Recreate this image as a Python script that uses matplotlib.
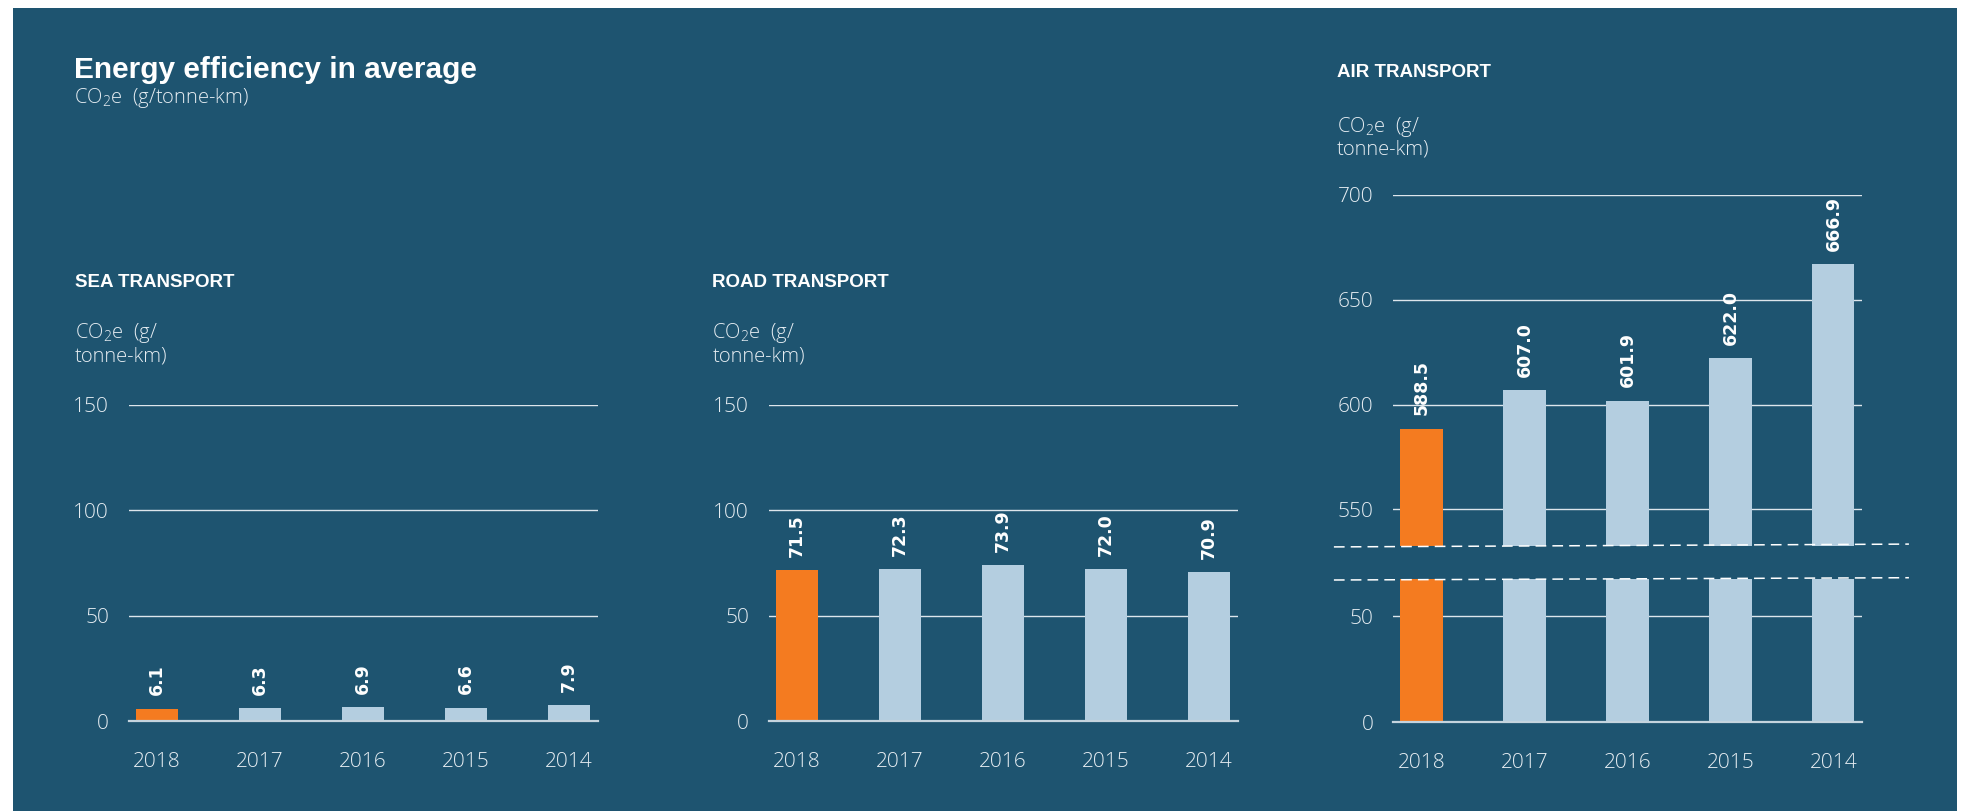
import numpy as np
import matplotlib.pyplot as plt
from matplotlib.patches import Rectangle

plt.rcParams['mathtext.default'] = 'regular'

# data
years = ['2018', '2017', '2016', '2015', '2014']
sea = [6.1, 6.3, 6.9, 6.6, 7.9]
road = [71.5, 72.3, 73.9, 72.0, 70.9]
air = [588.5, 607.0, 601.9, 622.0, 666.9]

bg = '#1e5470'
orange = '#f47b20'
light = '#b4cee0'
grid_c = '#dde6ec'
txt_c = '#e6edf2'
bar_colors = [orange] + [light] * 4

LIGHT = dict(family=['Open Sans', 'DejaVu Sans'], weight='light')
BOLD = dict(family=['Liberation Sans', 'DejaVu Sans'], weight='bold')

fig = plt.figure(figsize=(19.64, 8.11), dpi=100)
fig.patch.set_facecolor('white')
fig.add_artist(Rectangle((0.00647, 0), 0.99, 0.99014, transform=fig.transFigure,
                         facecolor=bg, edgecolor='none', zorder=0))

x = np.arange(len(years))
W = 0.41


def setup(ax, ylim, ticks, bottom=True, xlabels=True):
	ax.set_facecolor('none')
	ax.set_xlim(-0.276, 4.278)
	ax.set_ylim(*ylim)
	ax.set_yticks(ticks)
	ax.set_yticklabels([str(t) for t in ticks], color=txt_c, fontsize=15, **LIGHT)
	for t in ticks:
		if t != 0:
			ax.axhline(t, color=grid_c, lw=1.0, zorder=1)
	for s in ['top', 'right', 'left']:
		ax.spines[s].set_visible(False)
	if bottom:
		ax.spines['bottom'].set_color('#c5d4de')
		ax.spines['bottom'].set_linewidth(1.6)
		ax.spines['bottom'].set_zorder(3)
	else:
		ax.spines['bottom'].set_visible(False)
	ax.tick_params(axis='y', length=0, pad=14)
	ax.tick_params(axis='x', length=0, pad=22)
	ax.set_xticks(x)
	if xlabels:
		ax.set_xticklabels(years, color=txt_c, fontsize=15, **LIGHT)
	else:
		ax.set_xticklabels([])


def value_labels(ax, vals):
	for xi, v in zip(x, vals):
		ax.annotate(f'{v:.1f}', (xi, v), xytext=(0, 9.5), textcoords='offset points',
		            rotation=90, ha='center', va='bottom', color='white',
		            fontsize=12.5, fontweight='bold', family='DejaVu Sans',
		            annotation_clip=False, zorder=5)


def unit_label(xf, y1, y2):
	fig.text(xf, y1, 'CO$_2$e  (g/', color=txt_c, fontsize=14.5, va='baseline', **LIGHT)
	fig.text(xf, y2, 'tonne-km)', color=txt_c, fontsize=14.5, va='baseline', **LIGHT)


# sea transport
ax1 = fig.add_axes([0.06548, 0.11036, 0.2388, 0.39075])
setup(ax1, (0, 150), [0, 50, 100, 150])
ax1.bar(x, sea, width=W, color=bar_colors, zorder=2)
value_labels(ax1, sea)

# road transport
ax2 = fig.add_axes([0.39134, 0.11036, 0.2388, 0.39075])
setup(ax2, (0, 150), [0, 50, 100, 150])
ax2.bar(x, road, width=W, color=bar_colors, zorder=2)
value_labels(ax2, road)

# air transport, broken axis
ax3b = fig.add_axes([0.70927, 0.10974, 0.2388, 0.17633])
setup(ax3b, (0, 67.5), [0, 50])
ax3b.bar(x, air, width=W, color=bar_colors, zorder=2)

ax3t = fig.add_axes([0.70927, 0.32737, 0.2388, 0.43219])
setup(ax3t, (532.7, 700), [550, 600, 650, 700], bottom=False, xlabels=False)
ax3t.bar(x, air, width=W, color=bar_colors, zorder=2)
value_labels(ax3t, air)

# break marks
ax3t.plot([-0.126, 1.10], [-0.004, 0.004], transform=ax3t.transAxes, clip_on=False,
          color='white', lw=1.1, dashes=(7, 4), zorder=4)
ax3b.plot([-0.126, 1.10], [0.993, 1.009], transform=ax3b.transAxes, clip_on=False,
          color='white', lw=1.1, dashes=(7, 4), zorder=4)

# titles
fig.text(0.0375, 0.90345, 'Energy efficiency in average', color='white', fontsize=21.5,
         va='baseline', **BOLD)
fig.text(0.0375, 0.87263, 'CO$_2$e  (g/tonne-km)', color=txt_c, fontsize=14.5,
         va='baseline', **LIGHT)

fig.text(0.0382, 0.64649, 'SEA TRANSPORT', color='white', fontsize=13.5, va='baseline', **BOLD)
unit_label(0.0382, 0.58286, 0.55401)
fig.text(0.36278, 0.64649, 'ROAD TRANSPORT', color='white', fontsize=13.5, va='baseline', **BOLD)
unit_label(0.36278, 0.58286, 0.55401)
fig.text(0.68075, 0.90543, 'AIR TRANSPORT', color='white', fontsize=13.5, va='baseline', **BOLD)
unit_label(0.68075, 0.83761, 0.80888)

fig.savefig('out.png', dpi=100, facecolor=fig.get_facecolor())
